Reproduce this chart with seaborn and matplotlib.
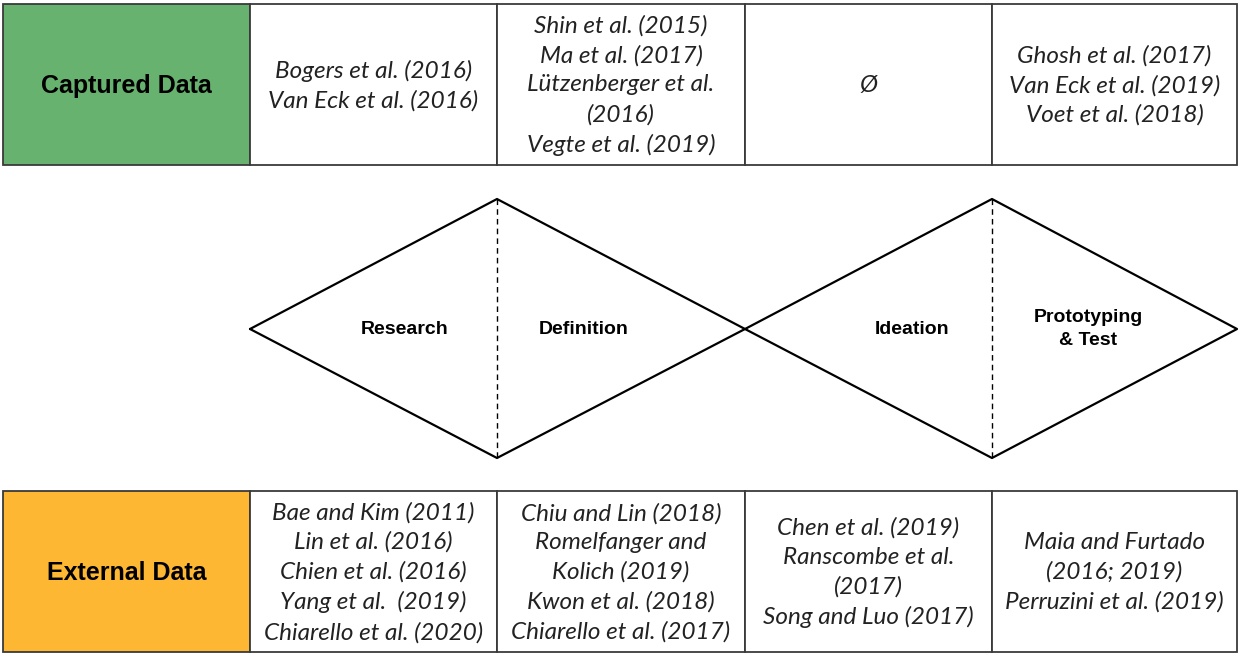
"""
Design thinking phases vs. data sources (captured / external)
"""

import matplotlib
matplotlib.use('Agg')
import matplotlib.pyplot as plt
from matplotlib.patches import Rectangle
import seaborn as sns

# Dados
phases = ['Research', 'Definition', 'Ideation', 'Prototyping\n& Test']
row_labels = ['Captured Data', 'External Data']
row_colors = ['#67B26F', '#FDB733']

captured_refs = [
    'Bogers et al. (2016)\nVan Eck et al. (2016)',
    'Shin et al. (2015)\nMa et al. (2017)\nLützenberger et al.\n(2016)\nVegte et al. (2019)',
    'Ø',
    'Ghosh et al. (2017)\nVan Eck et al. (2019)\nVoet et al. (2018)',
]
external_refs = [
    'Bae and Kim (2011)\nLin et al. (2016)\nChien et al. (2016)\nYang et al.  (2019)\nChiarello et al. (2020)',
    'Chiu and Lin (2018)\nRomelfanger and\nKolich (2019)\nKwon et al. (2018)\nChiarello et al. (2017)',
    'Chen et al. (2019)\nRanscombe et al.\n(2017)\nSong and Luo (2017)',
    'Maia and Furtado\n(2016; 2019)\nPerruzini et al. (2019)',
]

# Layout (coordenadas em pixels)
col_edges = [3, 250, 497, 745, 992, 1237]
row_spans = [(4, 165), (491, 652)]
diamond_top, diamond_mid, diamond_bot = 199, 329, 458
edge = '#3a3a3a'

sns.set_theme(style='white')
plt.rcParams['font.family'] = ['Liberation Sans', 'DejaVu Sans']

fig = plt.figure(figsize=(12.39, 6.53), dpi=100)
ax = fig.add_axes([0, 0, 1, 1])
ax.set_xlim(0, 1239)
ax.set_ylim(653, 0)
ax.axis('off')

# Tabelas
for (y0, y1), label, color, refs in zip(row_spans, row_labels, row_colors,
                                        [captured_refs, external_refs]):
    ax.add_patch(Rectangle((col_edges[0], y0), col_edges[1] - col_edges[0], y1 - y0,
                           facecolor=color, edgecolor=edge, lw=1.3))
    ax.text((col_edges[0] + col_edges[1]) / 2, (y0 + y1) / 2 + 2, label,
            ha='center', va='center', fontsize=18, fontweight='bold', color='black')
    for i, txt in enumerate(refs):
        xa, xb = col_edges[i + 1], col_edges[i + 2]
        ax.add_patch(Rectangle((xa, y0), xb - xa, y1 - y0,
                               facecolor='white', edgecolor=edge, lw=1.3))
        ax.text((xa + xb) / 2, (y0 + y1) / 2 + 1, txt, ha='center', va='center',
                fontsize=17.5, style='italic', color='#222222', linespacing=1.47,
                family=['Lato', 'DejaVu Sans'])

# Losangos (duplo diamante)
for k in range(2):
    left, mid, right = col_edges[1 + 2 * k], col_edges[2 + 2 * k], col_edges[3 + 2 * k]
    xs = [left, mid, right, mid, left]
    ys = [diamond_mid, diamond_top, diamond_mid, diamond_bot, diamond_mid]
    sns.lineplot(x=xs, y=ys, sort=False, color='black', lw=1.6, ax=ax, estimator=None)
    ax.plot([mid, mid], [diamond_top, diamond_bot], color='black', lw=1.0, ls=(0, (4, 3)))

phase_x = [405, 584, 912, 1088]
for x, name in zip(phase_x, phases):
    ax.text(x, diamond_mid, name, ha='center', va='center', fontsize=14,
            fontweight='bold', color='black', linespacing=1.4)

fig.savefig('out.png', dpi=100)
